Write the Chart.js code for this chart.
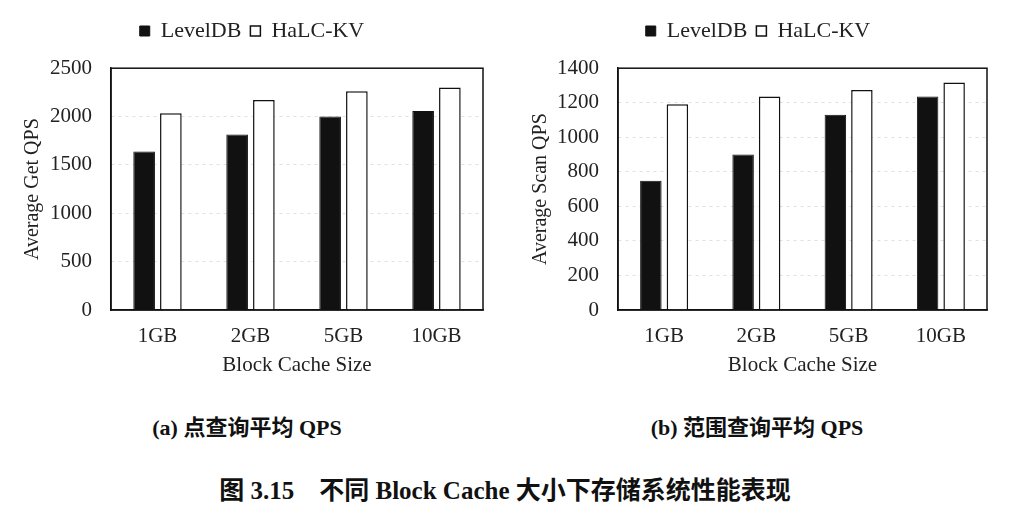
<!DOCTYPE html>
<html><head><meta charset="utf-8">
<script src="https://cdn.jsdelivr.net/npm/chart.js@4"></script>
<style>
html,body{margin:0;padding:0;background:#fff;width:1019px;height:512px;overflow:hidden;position:relative;}
.cv{position:absolute;top:0;}
.cap{position:absolute;font-family:"Liberation Serif","Noto Sans CJK SC",serif;font-weight:bold;color:#111;white-space:pre;transform:translateX(-50%);line-height:1;}
</style></head><body>
<div class="cv" style="left:0;width:500px;height:400px;"><canvas id="c1" width="500" height="400"></canvas></div>
<div class="cv" style="left:510px;width:500px;height:400px;"><canvas id="c2" width="500" height="400"></canvas></div>
<div class="cap" style="left:247px;top:417px;font-size:22px;">(a) 点查询平均 QPS</div>
<div class="cap" style="left:757px;top:417px;font-size:22px;">(b) 范围查询平均 QPS</div>
<div class="cap" style="left:505px;top:478px;font-size:25px;">图 3.15    不同 Block Cache 大小下存储系统性能表现</div>
<script>
const categories = ['1GB','2GB','5GB','10GB'];
const seriesNames = ['LevelDB','HaLC-KV'];
const getLevelDB = [1640, 1815, 2000, 2058];
const getHaLC = [2035, 2172, 2262, 2300];
const scanLevelDB = [749, 900, 1131, 1236];
const scanHaLC = [1191, 1236, 1274, 1317];
const getTicks = {max:2500, step:500};
const scanTicks = {max:1400, step:200};

const FONT = '"Liberation Serif", "Times New Roman", serif';
Chart.defaults.font.family = FONT;
Chart.defaults.color = '#222';

const framePlugin = {
  id:'frame',
  afterDraw(chart){
    const a = chart.chartArea, ctx = chart.ctx;
    ctx.save(); ctx.strokeStyle='#111'; ctx.lineWidth=1.5; ctx.setLineDash([]);
    ctx.strokeRect(a.left, a.top, a.right-a.left, a.bottom-a.top);
    ctx.restore();
  }
};

function makeChart(id, l, h, yTitle, tk, padL, padR, yW){
  return new Chart(document.getElementById(id), {
    type:'bar',
    data:{labels:categories, datasets:[
      {label:seriesNames[0], data:l, backgroundColor:'#111', borderColor:'#111', borderWidth:1,
       categoryPercentage:0.575, barPercentage:0.81},
      {label:seriesNames[1], data:h, backgroundColor:'#fff', borderColor:'#111', borderWidth:1.5,
       categoryPercentage:0.575, barPercentage:0.81}
    ]},
    options:{
      responsive:false, animation:false,
      layout:{padding:{left:padL, right:padR, top:11, bottom:0}},
      plugins:{
        legend:{display:true, position:'top', weight:3000,
          labels:{font:{size:22}, boxWidth:10, boxHeight:10, padding:9, color:'#222'}},
        subtitle:{display:true, text:'', weight:500, font:{size:1}, padding:{top:0,bottom:15}},
        tooltip:{enabled:false}
      },
      scales:{
        x:{grid:{display:false, drawTicks:false}, border:{color:'#111', width:1.5},
           ticks:{font:{size:21}, padding:14, color:'#222'},
           title:{display:true, text:'Block Cache Size', font:{size:21}, color:'#222', padding:{top:0,bottom:22}},
           afterFit(s){ s.height = 90; }},
        y:{min:0, max:tk.max, grid:{color:'rgba(0,0,0,0.12)', drawTicks:false},
           border:{color:'#111', width:1.5, dash:[3,4]},
           ticks:{stepSize:tk.step, font:{size:21}, padding:19, color:'#222', callback:(v)=>String(v)},
           title:{display:true, text:yTitle, font:{size:20}, color:'#222', padding:{top:0,bottom:0}},
           afterFit(s){ s.width = yW; }}
      }
    },
    plugins:[framePlugin]
  });
}
makeChart('c1', getLevelDB, getHaLC, 'Average Get QPS', getTicks, 21, 17, 90);
makeChart('c2', scanLevelDB, scanHaLC, 'Average Scan QPS', scanTicks, 19, 23, 89);
</script>
</body></html>
